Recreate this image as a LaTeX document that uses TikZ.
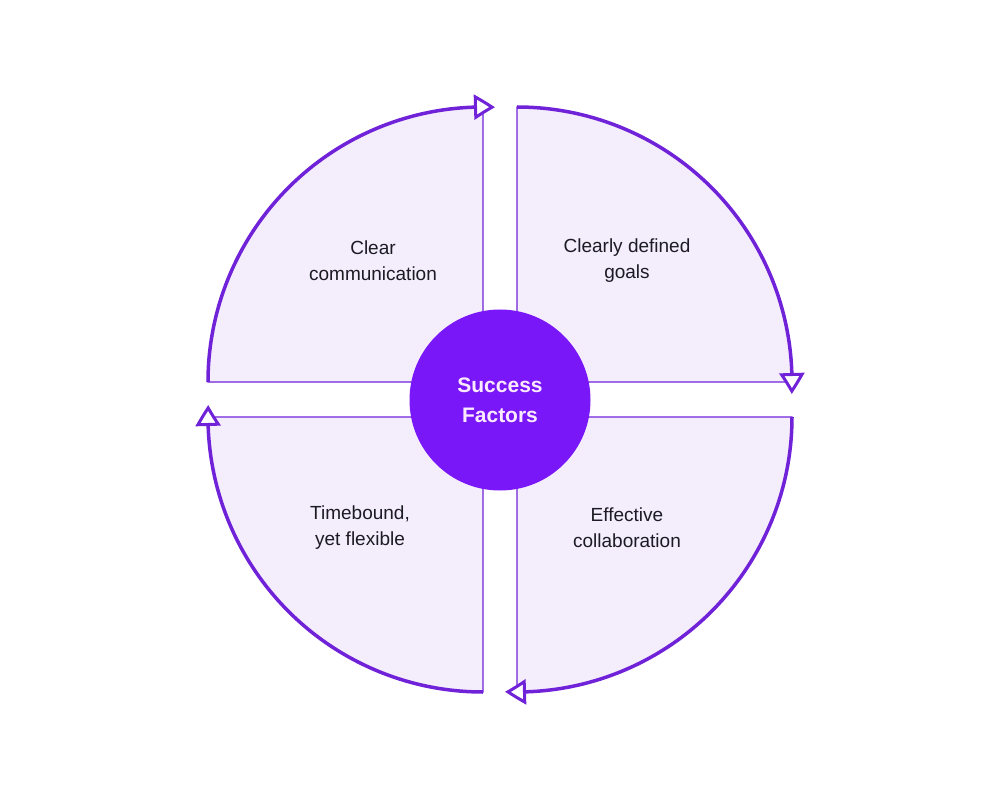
\documentclass[tikz,border=0pt]{standalone}
\usepackage{fontspec}
\setmainfont{Liberation Sans}
\usetikzlibrary{arrows.meta,bending}

\definecolor{sfrim}{HTML}{7022D8}
\definecolor{sfcore}{HTML}{7A17F8}
\definecolor{sfquad}{HTML}{F4EEFC}
\definecolor{sftext}{HTML}{1C1A22}
\definecolor{sfcoretext}{HTML}{FBEAFF}

\begin{document}
\begin{tikzpicture}[x=1pt, y=1pt,
    quad/.style={fill=sfquad, draw=sfrim, line width=1.2pt},
    rim/.style={draw=sfrim, line width=3.5pt,
        -{Triangle[open, fill=white, length=21pt, width=25pt, line width=3pt, bend]}},
    factor/.style={align=center, text=sftext, font=\fontsize{19}{26}\selectfont},
    core/.style={circle, fill=sfcore, minimum size=181pt, inner sep=0pt,
        align=center, text=sfcoretext, font=\bfseries\fontsize{21}{30}\selectfont}
]
\useasboundingbox (-500,-400) rectangle (500,400);

% Quadrants
\path[quad] (-17,18) -- (-292,18) arc[start angle=180, end angle=90, radius=275] -- cycle;
\path[quad] (17,18) -- (17,293) arc[start angle=90, end angle=0, radius=275] -- cycle;
\path[quad] (17,-17) -- (292,-17) arc[start angle=0, end angle=-90, radius=275] -- cycle;
\path[quad] (-17,-17) -- (-17,-292) arc[start angle=270, end angle=180, radius=275] -- cycle;

% Outer arcs with arrows
\draw[rim] (-292,18) arc[start angle=180, end angle=87.5, radius=275];
\draw[rim] (17,293) arc[start angle=90, end angle=-2.5, radius=275];
\draw[rim] (292,-17) arc[start angle=0, end angle=-92.5, radius=275];
\draw[rim] (-17,-292) arc[start angle=270, end angle=177.5, radius=275];

% Nodes
\node[core] (success) at (0,0) {Success\\Factors};
\node[factor] (comm) at (-127,139) {Clear\\communication};
\node[factor] (goals) at (127,139) {Clearly defined\\goals};
\node[factor] (time) at (-140,-128) {Timebound,\\yet flexible};
\node[factor] (collab) at (127,-128) {Effective\\collaboration};

\end{tikzpicture}
\end{document}
